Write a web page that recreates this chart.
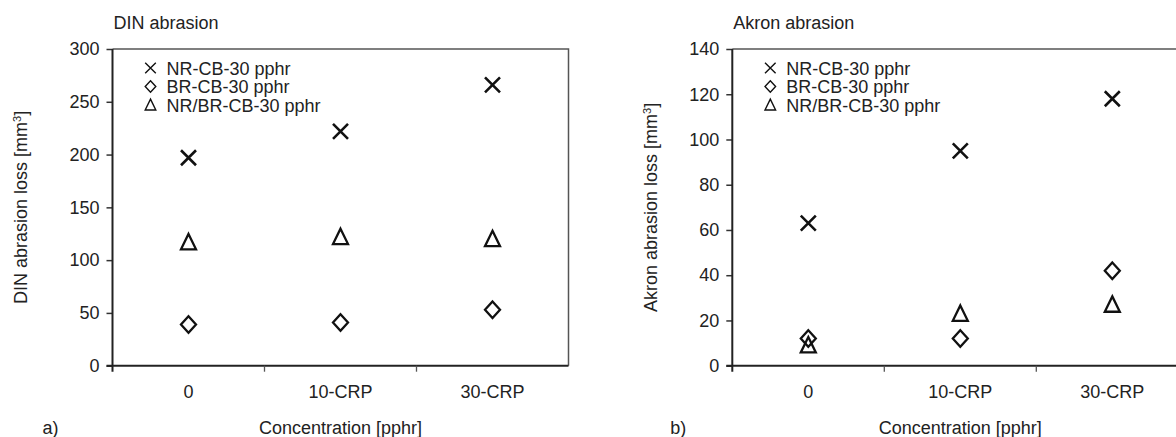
<!DOCTYPE html>
<html>
<head>
<meta charset="utf-8">
<script src="https://cdn.jsdelivr.net/npm/d3@7"></script>
<style>
  body { margin: 0; background: #fff; }
  text { font-family: "Liberation Sans", Arial, sans-serif; fill: #222; }
</style>
</head>
<body>
<script>
const width = 1176,
  height = 437;

// Categories and series
const categories = ["0", "10-CRP", "30-CRP"];
const seriesNames = ["NR-CB-30 pphr", "BR-CB-30 pphr", "NR/BR-CB-30 pphr"];

// DIN abrasion loss [mm3]
const dinNR = [197, 222, 266];
const dinBR = [39, 41, 53];
const dinNRBR = [117, 122, 120];
const dinTicks = [0, 50, 100, 150, 200, 250, 300];

// Akron abrasion loss [mm3]
const akronNR = [63, 95, 118];
const akronBR = [12, 12, 42];
const akronNRBR = [9, 23, 27];
const akronTicks = [0, 20, 40, 60, 80, 100, 120, 140];

const plotTop = 49,
  plotBottom = 365.7,
  plotW = 456;

const svg = d3
  .select("body")
  .append("svg")
  .attr("width", width)
  .attr("height", height);

// marker paths
const shapes = {
  x: s => `M${-s},${-s}L${s},${s}M${-s},${s}L${s},${-s}`,
  diamond: s => `M0,${-s * 1.1}L${s},0L0,${s * 1.1}L${-s},0Z`,
  triangle: s => `M0,${-s * 1.1}L${s},${s * 0.95}L${-s},${s * 0.95}Z`
};
const seriesShapes = ["x", "diamond", "triangle"];

function drawPanel(opt) {
  const g = svg.append("g").attr("transform", `translate(${opt.left},0)`);

  const xScale = d3
    .scaleBand()
    .domain(categories)
    .range([0, plotW])
    .paddingInner(0)
    .paddingOuter(0);

  const yScale = d3
    .scaleLinear()
    .domain([0, opt.yMax])
    .range([plotBottom, plotTop]);

  // frame (top, right)
  g.append("path")
    .attr("d", `M0,${plotTop}H${plotW}V${plotBottom}`)
    .attr("fill", "none")
    .attr("stroke", "#555")
    .attr("stroke-width", 1.5);

  // y axis
  const yAxis = d3
    .axisLeft(yScale)
    .tickValues(opt.ticks)
    .tickSize(6)
    .tickPadding(7)
    .tickSizeOuter(0);
  const yG = g.append("g").call(yAxis);
  yG.select(".domain").remove();
  yG.selectAll(".tick line").attr("stroke", "#333").attr("stroke-width", 1.5);
  yG.selectAll(".tick text")
    .attr("font-size", 18)
    .attr("font-family", "Liberation Sans, Arial, sans-serif")
    .attr("fill", "#222");
  g.append("line")
    .attr("x1", 0)
    .attr("x2", 0)
    .attr("y1", plotTop)
    .attr("y2", plotBottom + 6)
    .attr("stroke", "#222")
    .attr("stroke-width", 2);

  // x axis: ticks between categories, labels centered
  const boundaries = categories.slice(1).map(c => xScale(c));
  g.append("line")
    .attr("x1", -6)
    .attr("x2", plotW)
    .attr("y1", plotBottom)
    .attr("y2", plotBottom)
    .attr("stroke", "#222")
    .attr("stroke-width", 2);
  g.selectAll(".xtick")
    .data(boundaries)
    .enter()
    .append("line")
    .attr("x1", d => d)
    .attr("x2", d => d)
    .attr("y1", plotBottom)
    .attr("y2", plotBottom + 6)
    .attr("stroke", "#555")
    .attr("stroke-width", 1.3);
  g.selectAll(".xlabel")
    .data(categories)
    .enter()
    .append("text")
    .attr("x", d => xScale(d) + xScale.bandwidth() / 2)
    .attr("y", 397.5)
    .attr("text-anchor", "middle")
    .attr("font-size", 18)
    .text(d => d);

  // points
  const series = [opt.nr, opt.br, opt.nrbr];
  series.forEach((vals, si) => {
    g.selectAll(".pt" + si)
      .data(vals)
      .enter()
      .append("path")
      .attr(
        "transform",
        (d, i) =>
          `translate(${xScale(categories[i]) + xScale.bandwidth() / 2},${yScale(d)})`
      )
      .attr("d", shapes[seriesShapes[si]](7.5))
      .attr("fill", "none")
      .attr("stroke", "#111")
      .attr("stroke-width", si === 0 ? 2.6 : 2.3)
      .attr("stroke-linejoin", "miter");
  });

  // legend
  const legend = g
    .append("g")
    .selectAll("g")
    .data(seriesNames)
    .enter()
    .append("g")
    .attr("transform", (d, i) => `translate(38,${68 + i * 18.5})`);
  legend
    .append("path")
    .attr("d", (d, i) => shapes[seriesShapes[i]](5.3))
    .attr("fill", "none")
    .attr("stroke", "#111")
    .attr("stroke-width", 1.4);
  legend
    .append("text")
    .attr("x", 16)
    .attr("y", 6.5)
    .attr("font-size", 18)
    .text(d => d);

  // titles
  g.append("text")
    .attr("x", 1)
    .attr("y", 29)
    .attr("font-size", 18)
    .text(opt.title);

  const yl = g
    .append("text")
    .attr("transform", `translate(${opt.yLabelX},${(plotTop + plotBottom) / 2}) rotate(-90)`)
    .attr("text-anchor", "middle")
    .attr("dy", "0.35em")
    .attr("font-size", 18);
  yl.append("tspan").text(opt.yLabel + " [mm");
  yl.append("tspan")
    .attr("baseline-shift", "super")
    .attr("font-size", 11)
    .text("3");
  yl.append("tspan").text("]");

  g.append("text")
    .attr("x", plotW / 2)
    .attr("y", 434)
    .attr("text-anchor", "middle")
    .attr("font-size", 18)
    .text("Concentration [pphr]");

  g.append("text")
    .attr("x", opt.letterX)
    .attr("y", 434)
    .attr("font-size", 18)
    .text(opt.letter);
}

drawPanel({
  left: 112.5,
  yMax: 300,
  ticks: dinTicks,
  nr: dinNR,
  br: dinBR,
  nrbr: dinNRBR,
  title: "DIN abrasion",
  yLabel: "DIN abrasion loss",
  yLabelX: -92,
  letter: "a)",
  letterX: -70
});

drawPanel({
  left: 732.3,
  yMax: 140,
  ticks: akronTicks,
  nr: akronNR,
  br: akronBR,
  nrbr: akronNRBR,
  title: "Akron abrasion",
  yLabel: "Akron abrasion loss",
  yLabelX: -82,
  letter: "b)",
  letterX: -62
});
</script>
</body>
</html>
